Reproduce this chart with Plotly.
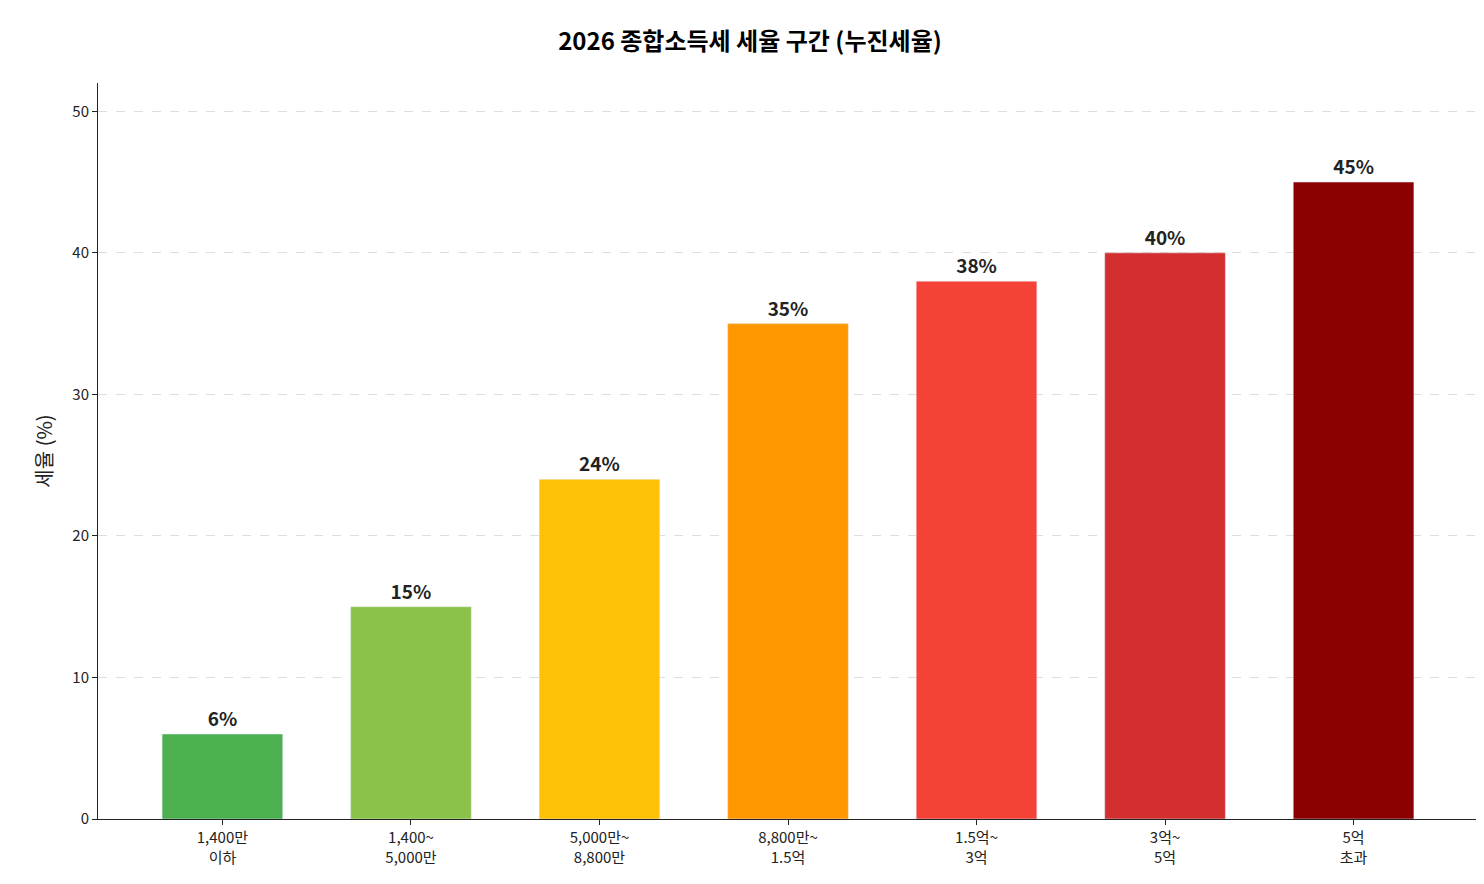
import plotly.graph_objects as go

categories = ["1,400만<br>이하", "1,400~<br>5,000만", "5,000만~<br>8,800만", "8,800만~<br>1.5억", "1.5억~<br>3억", "3억~<br>5억", "5억<br>초과"]
rates = [6, 15, 24, 35, 38, 40, 45]
colors = ["#4CAF50", "#8BC34A", "#FFC107", "#FF9800", "#F44336", "#D32F2F", "#8B0000"]

font = "Noto Sans CJK KR"
fig = go.Figure(go.Bar(
    x=list(range(len(categories))), y=rates, marker_color=colors, width=0.64,
    text=[f"{r}%" for r in rates], textposition="outside",
    textfont=dict(size=19, color="#222", family=font, weight="bold"), cliponaxis=False))
fig.update_layout(
    width=1484, height=884, plot_bgcolor="white", paper_bgcolor="white",
    margin=dict(l=90, r=14, t=75, b=73),
    font=dict(family=font, size=15, color="#222"),
    title=dict(text="<b>2026 종합소득세 세율 구간 (누진세율)</b>", x=0.5, xanchor="center", y=0.962, yanchor="middle", font=dict(size=24, color="#000")),
    showlegend=False, bargap=0.36)
fig.update_xaxes(tickmode="array", tickvals=list(range(len(categories))), ticktext=categories,
                 range=[-0.66, 6.66], showline=True, linecolor="#222", ticks="outside", ticklen=5,
                 tickcolor="#222", showgrid=False, tickfont=dict(size=15))
fig.update_yaxes(range=[0, 52], dtick=10, showline=True, linecolor="#222", ticks="outside", ticklen=5,
                 tickcolor="#222", showgrid=True, gridcolor="#dddddd", griddash="dash", zeroline=False,
                 title=dict(text="세율 (%)", font=dict(size=20), standoff=14), tickfont=dict(size=15))
fig.write_html("out.html")
